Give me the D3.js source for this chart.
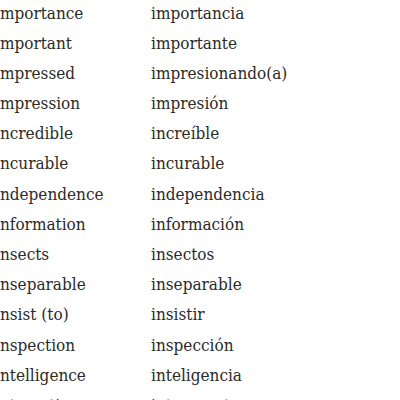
<!DOCTYPE html>
<html>
<head>
<meta charset="utf-8">
<script src="https://cdn.jsdelivr.net/npm/d3@7"></script>
<style>
  html, body { margin: 0; padding: 0; background: #fff; overflow: hidden; }
  svg { display: block; }
  .word { font-family: "DejaVu Serif Condensed", "DejaVu Serif", serif; font-stretch: condensed; }
</style>
</head>
<body>
<svg id="chart" width="400" height="400"></svg>
<script>
  var english = ["importance", "important", "impressed", "impression", "incredible",
    "incurable", "independence", "information", "insects", "inseparable",
    "insist (to)", "inspection", "intelligence", "interesting"];
  var spanish = ["importancia", "importante", "impresionando(a)", "impresión", "increíble",
    "incurable", "independencia", "información", "insectos", "inseparable",
    "insistir", "inspección", "inteligencia", "interesante"];
  var columns = ["english", "spanish"];

  var rows = english.map(function(d, i) {
    return { english: d, spanish: spanish[i], index: i };
  });

  var svg = d3.select("#chart");

  // one row every ~30px, last row mostly below the edge (only its i dots show)
  var y = d3.scaleLinear()
    .domain([0, english.length - 1])
    .range([18.5, 411]);

  var x = d3.scaleOrdinal()
    .domain(columns)
    .range([-5, 151]);

  var row = svg.selectAll("g.row")
    .data(rows)
    .enter()
    .append("g")
    .attr("class", "row")
    .attr("transform", function(d) { return "translate(0," + y(d.index) + ")"; });

  columns.forEach(function(c) {
    row.append("text")
      .attr("class", "word")
      .attr("x", x(c))
      .attr("y", 0)
      .attr("font-size", 17)
      .attr("fill", "#2a2a2a")
      .text(function(d) { return d[c]; });
  });
</script>
</body>
</html>
